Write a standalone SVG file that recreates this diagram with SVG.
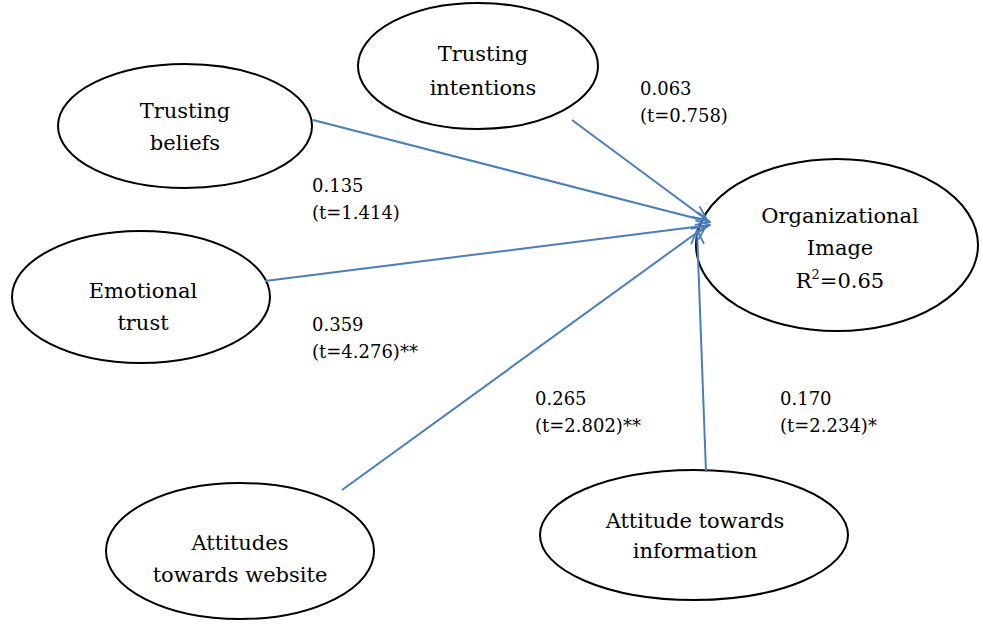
<svg xmlns="http://www.w3.org/2000/svg" width="983" height="632" viewBox="0 0 983 632">
<defs>
<marker id="ah" viewBox="0 0 16 16" refX="15" refY="8" markerWidth="16" markerHeight="16" markerUnits="userSpaceOnUse" orient="auto">
<path d="M1,1.5 L15,8 L1,14.5" fill="none" stroke="#4a7ebb" stroke-width="1.8"/>
</marker>
<style>
.node ellipse{fill:#fff;stroke:#000;stroke-width:2}
.edge{stroke:#4a7ebb;stroke-width:2;fill:none}
text{font-family:"DejaVu Serif","Times New Roman",serif}
</style>
</defs>
<rect width="983" height="632" fill="#fff"/>
<g fill="#000">
<g font-size="21" text-anchor="middle">
<g id="trusting-beliefs" class="node"><ellipse cx="185" cy="126" rx="127" ry="62"/><text x="185" y="118">Trusting</text><text x="185" y="150">beliefs</text></g>
<g id="trusting-intentions" class="node"><ellipse cx="478" cy="66" rx="120" ry="63"/><text x="483" y="61">Trusting</text><text x="483" y="95">intentions</text></g>
<g id="organizational-image" class="node"><ellipse cx="837" cy="245" rx="141" ry="86"/><text x="840" y="223">Organizational</text><text x="840" y="255">Image</text><text x="840" y="288">R<tspan dy="-9" font-size="13">2</tspan><tspan dy="9">=0.65</tspan></text></g>
<g id="emotional-trust" class="node"><ellipse cx="141" cy="297" rx="129" ry="66"/><text x="143" y="298">Emotional</text><text x="143" y="330">trust</text></g>
<g id="attitudes-website" class="node"><ellipse cx="240" cy="551" rx="134" ry="68"/><text x="240" y="550">Attitudes</text><text x="240" y="582">towards website</text></g>
<g id="attitude-information" class="node"><ellipse cx="694" cy="535" rx="154" ry="65"/><text x="695" y="528">Attitude towards</text><text x="695" y="558">information</text></g>
</g>
<g id="labels" font-size="18">
<text x="640" y="95">0.063</text><text x="640" y="122">(t=0.758)</text>
<text x="312" y="192">0.135</text><text x="312" y="219">(t=1.414)</text>
<text x="312" y="331">0.359</text><text x="312" y="358">(t=4.276)**</text>
<text x="535" y="405">0.265</text><text x="535" y="432">(t=2.802)**</text>
<text x="780" y="405">0.170</text><text x="780" y="432">(t=2.234)*</text>
</g>
</g>
<g id="connectors">
<line class="edge" x1="313" y1="120" x2="710" y2="222" marker-end="url(#ah)"/>
<line class="edge" x1="572" y1="120" x2="707" y2="220" marker-end="url(#ah)"/>
<line class="edge" x1="265" y1="281" x2="710" y2="225" marker-end="url(#ah)"/>
<line class="edge" x1="342" y1="490" x2="706" y2="226" marker-end="url(#ah)"/>
<line class="edge" x1="706" y1="472" x2="697" y2="230" marker-end="url(#ah)"/>
</g>
</svg>
